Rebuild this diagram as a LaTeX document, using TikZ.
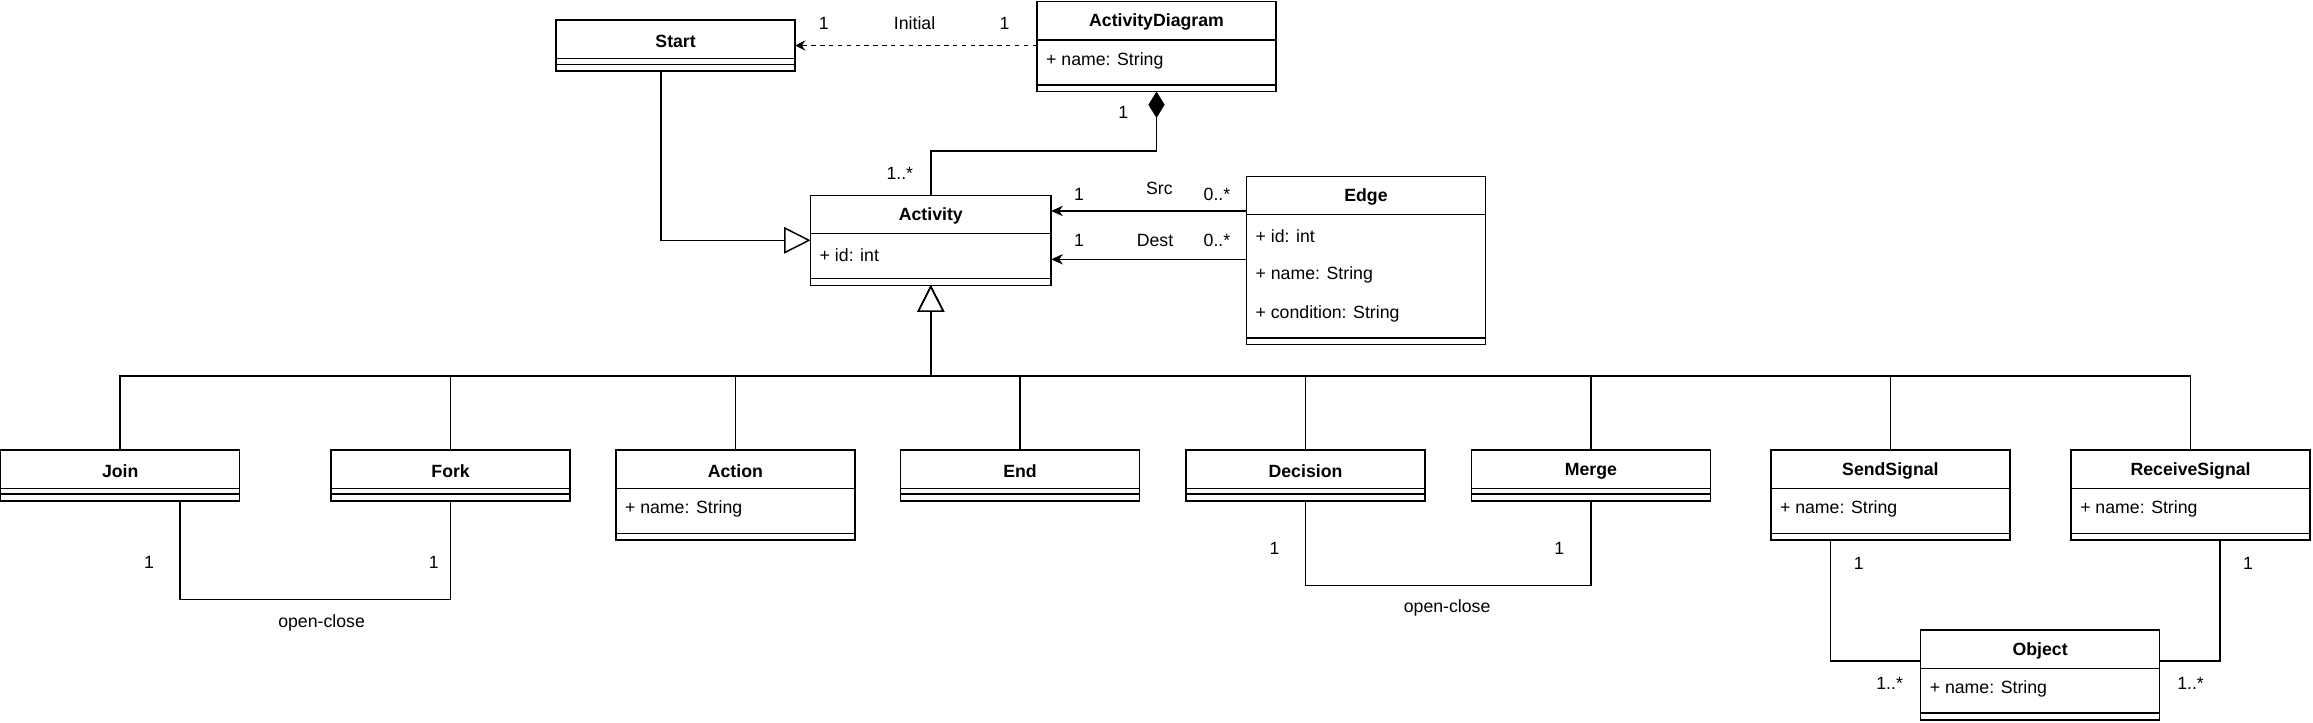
\documentclass[tikz,border=0pt]{standalone}
\usepackage{fontspec}
\setmainfont{Liberation Sans}
\usetikzlibrary{arrows.meta,calc}
\tikzset{
  clsbox/.style={draw, line width=1pt, fill=white, outer sep=0pt, inner sep=0pt},
  clstitle/.style={font=\fontsize{12}{14}\selectfont\bfseries, inner sep=0pt},
  attr/.style={anchor=west, inner sep=0pt, font=\fontsize{12}{14}\selectfont},
  lbl/.style={inner sep=0pt, font=\fontsize{12}{14}\selectfont},
  conn/.style={line width=1pt},
  gen/.style={conn, -{Triangle[length=18pt,width=18pt,fill=white,line width=1pt]}},
  assoc/.style={conn, -{Stealth[length=8pt,width=7pt,inset=2.5pt]}},
  dep/.style={conn, dash pattern=on 3pt off 3pt, -{Stealth[length=7pt,width=7pt,inset=2.5pt]}},
  comp/.style={conn, -{Diamond[length=18pt,width=11pt]}},
}
\newcommand{\umlcls}[6]{%
  \pgfmathsetmacro{\hh}{26+26.5*#6+8.5}%
  \node[clsbox, minimum width=#4pt, minimum height=\hh pt, anchor=north west] (#1) at (#2,#3) {};
  \node[clstitle] (#1-t) at ($(#1.north)+(0,14.2)$) {#5};
  \draw[line width=1pt] ($(#1.north west)+(0,26)$) -- ($(#1.north east)+(0,26)$);
  \draw[line width=1pt] ($(#1.south west)+(0,-4.5)$) -- ($(#1.south east)+(0,-4.5)$);
}
\newcommand{\umlattr}[4]{% class, index, name, text
  \node[attr] (#1-#3) at ($(#1.north west)+(6,40.3+26.6*#2)$) {#4};
}
\begin{document}
\begin{tikzpicture}[x=1pt,y=-1pt]
\useasboundingbox (0,0) rectangle (1568,490.1);

% classes
\umlcls{start}{377}{13.6}{162}{Start}{0}
\umlcls{ad}{703}{1}{162}{ActivityDiagram}{1}
\umlattr{ad}{0}{a}{+ name: String}
\umlcls{act}{549.5}{132.4}{163}{Activity}{1}
\umlattr{act}{0}{a}{+ id: int}
\umlcls{edge}{845}{119.5}{162}{Edge}{3}
\umlattr{edge}{0}{a}{+ id: int}
\umlattr{edge}{1}{b}{+ name: String}
\umlattr{edge}{2}{c}{+ condition: String}
\umlcls{join}{0.5}{305}{162}{Join}{0}
\umlcls{fork}{224.5}{305}{162}{Fork}{0}
\umlcls{action}{417.5}{305}{162}{Action}{1}
\umlattr{action}{0}{a}{+ name: String}
\umlcls{endc}{610.5}{305}{162}{End}{0}
\umlcls{decision}{804}{305}{162}{Decision}{0}
\umlcls{merge}{997.5}{305}{162}{Merge}{0}
\umlcls{send}{1200.5}{305}{162}{SendSignal}{1}
\umlattr{send}{0}{a}{+ name: String}
\umlcls{recv}{1404}{305}{162}{ReceiveSignal}{1}
\umlattr{recv}{0}{a}{+ name: String}
\umlcls{obj}{1302}{427}{162}{Object}{1}
\umlattr{obj}{0}{a}{+ name: String}

% Initial (dashed)
\draw[dep] (start.east -| ad.west) -- (start.east);
\node[lbl] (li1) at (558.5,16) {1};
\node[lbl] (li2) at (620,16) {Initial};
\node[lbl] (li3) at (681,16) {1};

% composition
\draw[comp] (act.north) -- ++(0,-30) -| (ad.south);
\node[lbl] (lc1) at (761.5,76.5) {1};
\node[lbl] (lc2) at (610,117.5) {1..*};

% Start generalization
\coordinate (stp) at ($(start.south west)+(71,0)$);
\draw[gen] (stp) |- (act.west);

% Src / Dest
\coordinate (srcp) at ($(edge.north west)+(0,23.5)$);
\coordinate (dstp) at ($(edge.north west)+(0,56.3)$);
\draw[assoc] (srcp) -- (srcp -| act.east);
\draw[assoc] (dstp) -- (dstp -| act.east);
\node[lbl] (ls1) at (731.5,132) {1};
\node[lbl] (ls2) at (786,128) {Src};
\node[lbl] (ls3) at (825,132) {0..*};
\node[lbl] (ld1) at (731.5,162.7) {1};
\node[lbl] (ld2) at (783,162.7) {Dest};
\node[lbl] (ld3) at (825,162.7) {0..*};

% generalizations of children
\foreach \c in {join,fork,action,endc,decision,merge,send,recv}
  \draw[gen] (\c.north) -- ++(0,-50) -| (act.south);

% Join - Fork
\coordinate (jp) at ($(join.south west)+(121.5,0)$);
\draw[conn] (jp) |- ($(fork.south)+(0,67)$) -- (fork.south);
\node[lbl] (lj1) at (101,381.5) {1};
\node[lbl] (lj2) at (294,381.5) {1};
\node[lbl] (lj3) at (218,422.5) {open-close};

% Decision - Merge
\draw[conn] (decision.south) |- ($(merge.south)+(0,57.5)$) -- (merge.south);
\node[lbl] (lm1) at (864,371.5) {1};
\node[lbl] (lm2) at (1057,371.5) {1};
\node[lbl] (lm3) at (981,412.4) {open-close};

% SendSignal / ReceiveSignal - Object
\coordinate (sp) at ($(send.south west)+(40.5,0)$);
\coordinate (rp) at ($(recv.south west)+(101,0)$);
\draw[conn] (sp) |- ($(obj.north west)+(0,21)$);
\draw[conn] (rp) |- ($(obj.north east)+(0,21)$);
\node[lbl] (lo1) at (1260,381.8) {1};
\node[lbl] (lo2) at (1281,463) {1..*};
\node[lbl] (lo3) at (1524,381.8) {1};
\node[lbl] (lo4) at (1485,463) {1..*};
\end{tikzpicture}
\end{document}
